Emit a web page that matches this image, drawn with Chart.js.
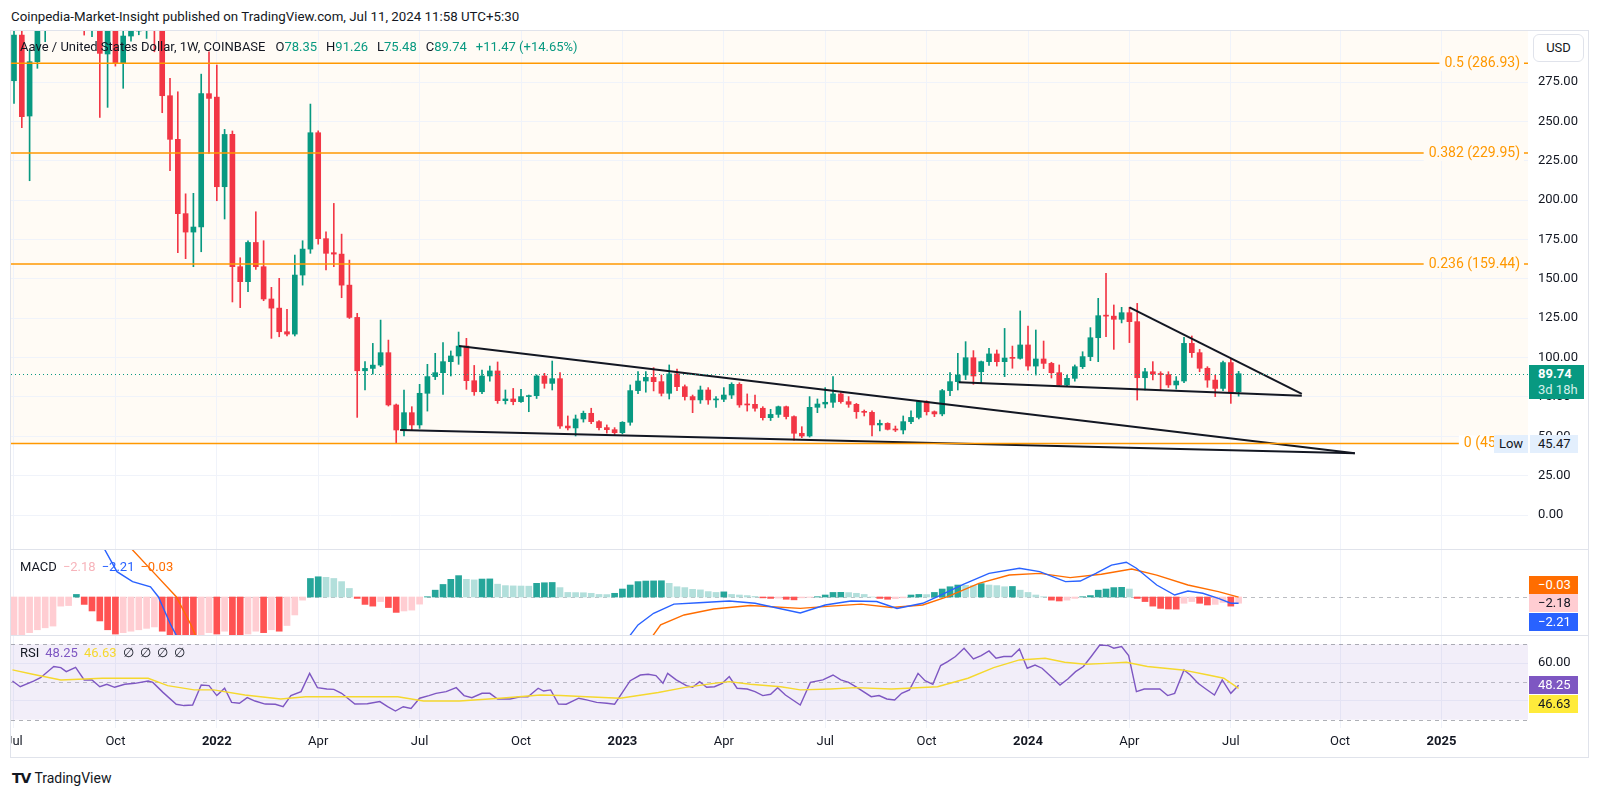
<!DOCTYPE html>
<html>
<head>
<meta charset="utf-8">
<title>AAVE / USD 1W</title>
<script src="https://cdn.jsdelivr.net/npm/chart.js@4.4.1/dist/chart.umd.min.js"></script>
<style>
  body { margin: 0; background: #fff; font-family: Roboto, "Noto Sans", sans-serif; color: #131722; }
  #page { position: relative; width: 1600px; height: 796px; overflow: hidden; }
  .a { position: absolute; white-space: nowrap; }
  canvas { position: absolute; left: 11px; }
  .frame { position: absolute; left: 10px; top: 30px; width: 1579px; height: 728px; border: 1px solid #e0e3eb; box-sizing: border-box; }
  .sep { position: absolute; left: 10px; width: 1579px; height: 1px; background: #e0e3eb; }
  .lg { font-size: 13px; line-height: 16px; }
  .lg span { margin-right: 6px; }
  .lg .ohlc { margin-right: 9px; }
  .tag { position: absolute; left: 1529px; width: 49px; height: 18px; font-size: 13px; line-height: 18px; padding-left: 9px; box-sizing: border-box; }
  .g { color: #089981; }
</style>
</head>
<body>
<div id="page">
  <div class="a" style="left:11px;top:9px;font-size:13.3px;line-height:16px;">Coinpedia-Market-Insight published on TradingView.com, Jul 11, 2024 11:58 UTC+5:30</div>
  <div class="frame"></div>
  <canvas id="main" width="1577" height="518" style="top:31px"></canvas>
  <div class="sep" style="top:549px"></div>
  <canvas id="macd" width="1577" height="85" style="top:550px"></canvas>
  <div class="sep" style="top:635px"></div>
  <canvas id="rsi" width="1577" height="120" style="top:636px"></canvas>

  <!-- legends -->
  <div class="a lg" style="left:20px;top:39px;">
    <span style="margin-right:10px">Aave / United States Dollar, 1W, COINBASE</span><span class="ohlc">O<span class="g" style="margin:0">78.35</span></span><span class="ohlc">H<span class="g" style="margin:0">91.26</span></span><span class="ohlc">L<span class="g" style="margin:0">75.48</span></span><span class="ohlc">C<span class="g" style="margin:0">89.74</span></span><span class="g">+11.47 (+14.65%)</span>
  </div>
  <div class="a lg" style="left:20px;top:559px;">
    <span>MACD</span><span style="color:#f7b4bb">−2.18</span><span style="color:#2962ff">−2.21</span><span style="color:#ff6d00">−0.03</span>
  </div>
  <div class="a lg" style="left:20px;top:645px;">
    <span>RSI</span><span style="color:#7e57c2">48.25</span><span style="color:#f5d82e">46.63</span><span>∅</span><span>∅</span><span>∅</span><span>∅</span>
  </div>

  <!-- price scale labels -->
  <div class="a" style="left:1533px;top:34px;width:51px;height:28px;border:1px solid #e0e3eb;border-radius:6px;box-sizing:border-box;font-size:13px;line-height:26px;text-align:center;background:#fff;">USD</div>
  <div class="a" style="left:1529px;top:365px;width:55px;height:34px;background:#089981;color:#fff;padding-left:9px;box-sizing:border-box;font-size:13px;line-height:16px;padding-top:1px;"><b>89.74</b><br><span style="color:#d2efe9">3d 18h</span></div>
  <div class="a" style="left:1494px;top:435px;width:34px;height:18px;background:#e3effd;font-size:13px;line-height:18px;text-align:center;">Low</div>
  <div class="a" style="left:1530px;top:435px;width:48px;height:18px;background:#e3effd;font-size:13px;line-height:18px;padding-left:8px;box-sizing:border-box;">45.47</div>
  <div class="tag" style="top:576px;background:#ff6d00;color:#fff;">−0.03</div>
  <div class="tag" style="top:594px;background:#ffcdd2;">−2.18</div>
  <div class="tag" style="top:613px;background:#2962ff;color:#fff;">−2.21</div>
  <div class="tag" style="top:676px;background:#7e57c2;color:#fff;">48.25</div>
  <div class="tag" style="top:695px;background:#ffeb3b;">46.63</div>

  <div class="a" style="left:12px;top:770px;font-size:14px;line-height:16px;"><b style="font-family:'DejaVu Sans';font-weight:900;letter-spacing:-1px;margin-right:4px">TV</b>TradingView</div>
</div>

<script>
// weekly candles, index 0 = week of 5 Jul 2021
const open = [
  275.8, 304.8, 253.4, 287.9, 330, 360, 380, 420, 390, 420,
  340, 350, 292.8, 318, 286.8, 304.2, 307.4, 315, 335, 320,
  266.3, 238.6, 191.4, 179.7, 182.9, 267.6, 265.4, 208.5, 241.7, 157.7,
  148.2, 173.1, 157.7, 137.2, 131.4, 116.4, 114.9, 152.4, 168.9, 242.8,
  175.5, 166.6, 165.7, 146, 125.5, 91.6, 93.1, 95.2, 103.1, 69.9,
  54, 65, 57.2, 77.3, 87.9, 90.4, 97.4, 101, 107.3, 85.3,
  78.3, 88.3, 91.5, 72.6, 73.7, 72, 75.2, 75.8, 88.3, 83.6,
  86.6, 56.5, 55.3, 61, 64.6, 59.3, 55.5, 54.2, 52.3, 58.9,
  79, 85.1, 87.4, 84.7, 77.3, 89.6, 81.5, 75.2, 73.1, 79.4,
  73.1, 73.5, 76.2, 83, 70.3, 70.3, 67.8, 61.8, 63.9, 68.8,
  62.5, 51.9, 50.2, 68.4, 70.5, 71.6, 76.9, 72, 70.3, 65.6,
  65.2, 57.2, 58.2, 54.4, 54, 59.3, 62, 72, 65.6, 64.2,
  79, 84.7, 88.9, 99.9, 91, 97.4, 102.3, 97.4, 99.9, 99.5,
  108, 94.6, 99.1, 96.3, 90.4, 82.6, 86.8, 94.2, 100.6, 112.6,
  126.6, 126.3, 124.3, 128.5, 122.8, 87.2, 91, 89.5, 89.2, 82.6,
  85.1, 109, 103.1, 93.2, 85.7, 80.4, 96.8, 78.35
];
const high = [
  312, 312, 295.3, 345, 375, 405, 450, 430, 440, 460,
  370, 360, 335, 340, 312, 316, 330, 350, 370, 330,
  277.3, 268.8, 204, 204.3, 280, 294.2, 285.8, 244.9, 243.9, 163.4,
  174.2, 192.6, 174.2, 144.6, 150.3, 130.6, 165.1, 174.2, 261, 244,
  179.9, 197.9, 178.4, 161.9, 128.1, 97.4, 109, 123.8, 111.1, 70.5,
  79.4, 68.8, 83, 95.7, 102.7, 109.5, 104.2, 116.2, 112.2, 95,
  92.1, 94.6, 97.2, 79.4, 80.4, 79.8, 76.2, 89, 90, 97.8,
  90.4, 62.9, 63.5, 66, 67.8, 60, 57.2, 55.5, 59.3, 82.6,
  91.1, 91.1, 93.6, 88.9, 95.3, 92.7, 82.6, 76.2, 81.9, 80.9,
  75.2, 80.9, 84, 84, 76.9, 76.2, 68.8, 67.1, 69.2, 69.2,
  63, 56.1, 75.2, 73.7, 80.9, 87.9, 77.7, 75.2, 70.9, 66.7,
  66.1, 60.3, 58.6, 56.5, 62.9, 66.1, 72.6, 72.6, 66.1, 79.8,
  90.4, 102.7, 110.1, 104.4, 97.8, 105.8, 104.8, 118.5, 107.3, 129.6,
  120, 117.5, 110.5, 97, 95.3, 88.9, 95.3, 103.7, 119, 137.6,
  153.5, 133.4, 131.9, 131.9, 134.4, 93.2, 97.4, 91, 91, 87.9,
  112.8, 113.7, 105.2, 94.2, 88.9, 97.8, 99.5, 91.26
];
const low = [
  261.4, 246, 212.3, 283.7, 300.6, 340, 360, 360, 375, 304.8,
  303.8, 252.5, 258.9, 285.1, 271, 301, 305, 302.7, 294.2, 255.5,
  218.7, 166.6, 162.8, 157.7, 167.2, 229.7, 199.6, 188, 135.3, 131.7,
  141.8, 156, 136.1, 112.2, 113.2, 113.7, 113.7, 146, 166.2, 172,
  155.6, 157.7, 138, 124.8, 62, 79.4, 89.5, 94.2, 69.2, 45.47,
  50.2, 53.6, 55, 66, 86, 76.6, 88.3, 95.7, 79.8, 76,
  77, 85, 70.9, 70.5, 70, 71.5, 65.6, 74, 80.5, 79.4,
  55, 54, 50.2, 59, 58, 54, 52, 51, 51.5, 57,
  77, 78, 78.8, 75.6, 73.7, 79, 73, 65, 70.9, 70.3,
  68.4, 72, 74, 68.4, 66, 66, 60.3, 60, 62, 61,
  47.6, 49.1, 49.5, 65, 68, 68.4, 71, 68.4, 61.4, 62.9,
  50.2, 53.4, 54, 53, 51.5, 58, 61, 63.5, 62.5, 63,
  75.8, 79.4, 86, 83, 84, 95, 94.6, 87.9, 93.2, 99,
  92, 88.9, 93, 87, 81.9, 81.5, 85, 93, 98, 97.4,
  113.3, 105.2, 122, 109.5, 73, 79.4, 85.8, 79, 81, 80,
  84, 100.1, 91, 81.1, 75.2, 79, 70.9, 75.48
];
const close = [
  304.8, 253, 287.9, 330, 360, 380, 420, 390, 420, 340,
  350, 293.2, 318, 286.8, 304.2, 307.4, 315, 335, 320, 266.3,
  238.6, 191.4, 179.7, 182.9, 267.6, 264.6, 208.5, 241.7, 157.7, 148.2,
  173.1, 157.7, 137.2, 131.4, 116.4, 114.9, 152.4, 168.9, 242.8, 175.5,
  166.2, 165.7, 146, 125.5, 91.6, 93.1, 95.2, 103.1, 69.9, 54,
  65, 57.2, 77.3, 87.9, 90.4, 97.4, 101, 107.3, 85.3, 78.3,
  88.3, 91.5, 72.6, 73.7, 72, 75.2, 75.8, 88.3, 83.6, 86.6,
  56.5, 55.3, 61, 64.6, 59.3, 55.5, 54.2, 52.3, 58.9, 79,
  85.1, 87.4, 84.7, 77.3, 89.6, 81.5, 75.2, 73.1, 79.4, 73.1,
  73.5, 76.2, 83, 69.9, 69.9, 67.8, 61.8, 63.9, 68.8, 62.5,
  51.9, 50.2, 68.4, 70.5, 71.6, 76.9, 72, 70.3, 65.6, 65.2,
  57.2, 58.2, 54.4, 54, 59.3, 62, 72, 65.6, 64.2, 79,
  84.7, 88.9, 99.9, 88.3, 97.4, 102.3, 97.4, 99.7, 99.5, 108,
  94.6, 99.1, 96.3, 90.4, 82.6, 86.8, 94.2, 100.6, 112.6, 126.6,
  126.3, 124.3, 128.5, 122.8, 87.2, 91, 89.5, 89.2, 82.6, 85.1,
  109, 103.1, 93.2, 85.7, 80.4, 96.8, 78.35, 89.74
];

// MACD histogram per week, MACD / signal lines as [week, value]
const hist = [
  -15, -13.5, -12.5, -11.5, -10.8, -10.2, -3.2, -3.0, 0.9, -2.6,
  -4.9, -8.4, -11.5, -13, -12.5, -12, -11.5, -11, -10.5, -12,
  -13.5, -15, -15.5, -16, -14, -12.5, -13, -12, -14, -15,
  -13, -12, -12.5, -11.5, -12, -10, -6.3, -1.1, 6.5, 7.1,
  6.9, 6.5, 5.4, 3.0, -0.5, -2.6, -3.2, -1.6, -3.7, -5.4,
  -4.9, -4.6, -2.5, 0.1, 2.4, 4.4, 6.2, 7.5, 6.2, 6.0,
  6.3, 6.35, 4.5, 4.0, 3.9, 3.85, 3.8, 4.8, 5.0, 5.1,
  3.3, 1.6, 1.55, 1.5, 1.3, 0.9, 0.85, 1.3, 2.8, 4.2,
  5.4, 5.6, 5.65, 5.7, 4.8, 3.6, 3.3, 2.7, 2.5, 1.9,
  1.6, 1.8, 0.9, 0.7, 0.5, 0.2, -0.3, -0.5, -0.4, -0.8,
  -1.0, -0.3, -0.1, 0.1, 0.7, 1.6, 1.65, 1.55, 1.3, 0.9,
  0.0, -0.5, -0.8, -0.6, -0.3, 0.7, 0.9, 0.85, 1.6, 2.8,
  3.6, 4.2, 4.1, 4.0, 4.7, 4.2, 4.0, 3.6, 3.7, 2.4,
  1.6, 0.7, 0.1, -1.1, -1.4, -1.1, -0.5, 0.1, 0.5, 2.4,
  2.8, 3.3, 3.4, 2.8, -0.5, -1.6, -3.2, -4.0, -4.2, -4.25,
  -2.2, -1.6, -2.2, -2.8, -2.6, -1.9, -3.2, -2.18
];
const macdLine = [
  [10.5, 21], [11.6, 16.8], [13.2, 8.9], [15.2, 5.4], [17.5, 3.6], [18.5, 0.1], [20.1, -9.8], [21.5, -17],
  [78, -17], [80, -9.8], [82, -5.7], [84.6, -2.5], [87.8, -2.0], [91.7, -1.4], [95, -2.2], [100.8, -5.6],
  [104, -2.8], [107.3, -1.4], [110.6, -1.6], [113.2, -4.0], [116.5, -2.2], [118.4, 0.1], [121.7, 4.4],
  [125, 8.3], [128.9, 10.1], [131.5, 8.9], [134.8, 5.4], [136.7, 5.6], [138.7, 8.3], [140.7, 11.2],
  [142.6, 12.2], [143.9, 10.1], [146.5, 4.2], [148.8, 0.7], [150.5, 2.1], [152.4, 1.3], [154.4, -0.5],
  [156, -2.2], [157, -2.21]
];
const signalLine = [
  [13.5, 22], [15.1, 16.8], [17.8, 8.9], [20.8, 0.1], [22.7, -9.8], [23.8, -17],
  [81, -17], [82.9, -9.8], [85.9, -6.3], [89.7, -4.2], [94.4, -3.0], [100.8, -4.0], [104.7, -3.2],
  [108.6, -2.5], [112.5, -3.7], [116.5, -2.8], [119.7, 0.1], [123.7, 4.8], [127.6, 7.7], [131.5, 8.3],
  [135.4, 6.8], [139.4, 8.0], [143.3, 9.8], [146.5, 7.7], [150.5, 4.2], [154.4, 1.9], [157, -0.03]
];

// RSI and its moving average as [week, value]
const rsiLine = [
  [-0.2, 50.5], [0.8, 47.5], [2.5, 50.5], [3.4, 52.3], [5.1, 58.2], [6, 57.6], [6.7, 55.5], [7.9, 57.8],
  [9, 51.1], [10, 51.1], [11, 47.5], [11.9, 48.8], [12.9, 47.2], [14.2, 48.8], [15.5, 49.3], [17.2, 50.5],
  [17.8, 49.8], [19.1, 44.5], [20.8, 38.2], [21.8, 37.5], [22.9, 37.8], [24, 48.4], [25, 48.1], [26, 42.8],
  [27, 46.7], [27.9, 39.2], [28.9, 38.7], [29.9, 41.7], [30.9, 39.9], [32.2, 38.3], [33.5, 38.2], [34.5, 36.9],
  [35.5, 42.8], [36.8, 44.9], [37.9, 54.6], [38.9, 47], [40.1, 46.3], [41, 46.1], [42, 44], [43.7, 38.3],
  [45.3, 38.5], [46.9, 39.6], [47.9, 36.9], [48.9, 34.6], [49.9, 36.9], [50.9, 36], [52, 41.4], [53.2, 42.8],
  [54.1, 44], [55.4, 44.9], [56.7, 47], [57.7, 42.8], [58.7, 41.7], [60, 44], [61, 44], [62, 41], [63.6, 41],
  [64.9, 42.2], [65.9, 42.2], [67.2, 46.7], [67.9, 45.2], [68.8, 45.8], [69.8, 38.3], [70.8, 38.2], [72.4, 41.4],
  [73.4, 40.5], [74.7, 39.2], [76, 38.7], [77, 38.2], [79, 50.7], [80.3, 53.7], [81.3, 54.1], [82.3, 53.4],
  [83.2, 49.3], [83.8, 54.6], [84.9, 51.1], [86.2, 48.1], [87, 47.2], [87.9, 50.2], [88.8, 47.2], [89.8, 47.5],
  [90.8, 49.3], [91.7, 52.9], [92.7, 46.7], [94, 46.3], [95, 44.9], [96, 42.8], [97, 43.5], [97.9, 47],
  [98.9, 43.1], [100.8, 37.8], [102.1, 49.8], [103.7, 51.1], [105, 53.7], [106, 51.1], [107, 49.8],
  [107.9, 47.5], [109.9, 42.2], [110.9, 42.8], [111.9, 41], [112.9, 40.5], [113.8, 44], [114.8, 45.8],
  [115.9, 54.6], [116.8, 50.7], [117.8, 48.8], [118.8, 58.7], [119.7, 60.8], [120.7, 63.5], [121.8, 67.9],
  [123, 62.2], [124, 64], [125, 66.5], [125.9, 62.6], [126.9, 63.5], [127.9, 63.5], [128.9, 67.5], [129.9, 57.3],
  [130.9, 59], [131.8, 57.3], [132.8, 53.4], [134.1, 48.4], [135.1, 51.6], [136.1, 55.5], [137.1, 58.2],
  [138.1, 63.5], [139.2, 69.6], [140.3, 69.3], [141, 67.9], [142, 68.8], [142.9, 64], [143.9, 44.9],
  [144.9, 46.3], [146.9, 46.3], [147.9, 42.8], [148.8, 44], [150, 56.4], [150.8, 53.7], [151.8, 49.3],
  [152.8, 46.3], [153.9, 43.1], [154.9, 51.1], [156, 44], [157, 48.25]
];
const rsiMa = [
  [-0.2, 56.4], [2.4, 54.1], [6, 51.1], [11.3, 52], [17.2, 52], [19.7, 48.1], [23.1, 45.8], [25.6, 45.8],
  [29.6, 43.1], [34.2, 41], [37.4, 42.2], [44, 42.2], [49.2, 42.2], [52.5, 39.9], [57.1, 39.9], [62.3, 41.4],
  [67.5, 43.1], [70.1, 42.8], [73.4, 42.2], [77.7, 41.4], [82.6, 44.4], [85.9, 47], [89.7, 49.3], [91.7, 50.2],
  [94.4, 48.8], [98.3, 47.5], [100.8, 45.8], [104.7, 46.3], [107.9, 47], [112.5, 46.3], [118.4, 47.5],
  [122.3, 52], [125.6, 57.6], [128.9, 61.7], [132.2, 62.6], [134.7, 60.5], [137.4, 59.4], [140, 59.9],
  [142.6, 60.5], [145.3, 58.2], [149.8, 56.4], [153.1, 53.7], [155.1, 52], [157, 46.63]
];

// drawings
const fibLevels = [0, 0.236, 0.382, 0.5];
const fibPrices = [45.47, 159.44, 229.95, 286.93];
const wedgeUpper = [[57.05, 107.3], [171.9, 39.2]];
const wedgeLower = [[49.5, 54.0], [171.9, 39.2]];
const triUpper = [[143, 131.9], [165.1, 76.9]];
const triLower = [[121.1, 84.3], [165.1, 75.8]];
const lastPrice = 89.74;

// axes
const quarterTicks = [0, 13, 26, 39, 52, 65, 78, 91, 104, 117, 130, 143, 156, 170, 183];
const quarterLabels = ['Jul', 'Oct', '2022', 'Apr', 'Jul', 'Oct', '2023', 'Apr', 'Jul', 'Oct', '2024', 'Apr', 'Jul', 'Oct', '2025'];
const priceTicks = [0, 25, 50, 75, 100, 125, 150, 175, 200, 225, 250, 275];
const rsiTicks = [40, 60];

const FONT = 'Roboto, "Noto Sans", sans-serif';
const UP = '#089981', DOWN = '#f23645';
const X_MIN = -0.3846, X_MAX = 194.1;
const AXIS_W = 60;

const pts = arr => arr.map(([x, y]) => ({ x, y }));
const weeks = open.map((_, i) => i);
const candleColors = weeks.map(i => close[i] >= open[i] ? UP : DOWN);
const histColors = hist.map((v, i) => {
  const prev = i ? hist[i - 1] : v;
  if (v >= 0) return v >= prev ? '#26a69a' : '#b2dfdb';
  return v < prev ? '#ff5252' : '#ffcdd2';
});

function timeAxis() {
  return {
    type: 'linear', min: X_MIN, max: X_MAX, offset: false,
    afterBuildTicks: s => { s.ticks = quarterTicks.map(v => ({ value: v })); },
    afterFit: s => { s.height = 0; },
    grid: { color: '#f0f3fa', drawTicks: false, offset: false },
    border: { display: false },
    ticks: { display: false }
  };
}

function valueAxis(min, max, ticks) {
  return {
    position: 'right', min, max,
    afterBuildTicks: s => { s.ticks = ticks.map(v => ({ value: v })); },
    afterFit: s => { s.width = AXIS_W; },
    grid: { color: '#f0f3fa', drawTicks: false, display: ticks.length > 0 },
    border: { display: false },
    ticks: { display: false }
  };
}

const baseOpts = {
  responsive: false, animation: false, devicePixelRatio: 1, events: [],
  layout: { padding: 0, autoPadding: false },
  plugins: { legend: { display: false }, tooltip: { enabled: false } }
};

// scale labels drawn from the chart's own scales
const axisText = (yTicks, withTime) => ({
  id: 'axisText',
  afterDraw(c) {
    const { ctx, chartArea: a, scales: { x, y } } = c;
    ctx.save();
    ctx.fillStyle = '#131722';
    ctx.textBaseline = 'middle';
    ctx.textAlign = 'left';
    ctx.font = '13px ' + FONT;
    yTicks.forEach(v => ctx.fillText(v.toFixed(2), a.right + 10, y.getPixelForValue(v)));
    if (withTime) {
      ctx.textAlign = 'center';
      quarterTicks.forEach((v, k) => {
        const lab = quarterLabels[k];
        ctx.font = (/^\d+$/.test(lab) ? 'bold ' : '') + '13px ' + FONT;
        ctx.fillText(lab, x.getPixelForValue(v), a.bottom + 14);
      });
    }
    ctx.restore();
  }
});

// price pane: fib fill under grid, fib lines + labels and price line on top
const mainDecor = {
  id: 'mainDecor',
  beforeDraw(c) {
    const { ctx, chartArea: a, scales: { y } } = c;
    ctx.save();
    ctx.fillStyle = '#fffbf5';
    const y0 = y.getPixelForValue(fibPrices[0]);
    ctx.fillRect(a.left, a.top, a.right - a.left, y0 - a.top);
    ctx.restore();
  },
  afterDatasetsDraw(c) {
    const { ctx, chartArea: a, scales: { y } } = c;
    ctx.save();
    const yp = Math.round(y.getPixelForValue(lastPrice)) + 0.5;
    ctx.strokeStyle = UP; ctx.lineWidth = 1; ctx.setLineDash([1, 3]);
    ctx.beginPath(); ctx.moveTo(a.left, yp); ctx.lineTo(a.right, yp); ctx.stroke();
    ctx.setLineDash([]);
    ctx.font = '14px ' + FONT;
    ctx.textBaseline = 'middle'; ctx.textAlign = 'right';
    fibLevels.forEach((lvl, k) => {
      const yy = y.getPixelForValue(fibPrices[k]);
      ctx.strokeStyle = '#ff9800'; ctx.lineWidth = 1.5;
      ctx.beginPath(); ctx.moveTo(a.left, yy); ctx.lineTo(a.right, yy); ctx.stroke();
      const txt = lvl + ' (' + fibPrices[k].toFixed(2) + ')';
      const w = ctx.measureText(txt).width;
      const xr = a.right - 8;
      ctx.fillStyle = k === 0 ? '#fff' : '#fffbf5';
      ctx.fillRect(xr - w - 5, yy - 8, w + 9, 16);
      ctx.fillStyle = '#ff9800';
      ctx.fillText(txt, xr, yy + 0.5);
    });
    ctx.restore();
  }
};

const line = (data, color, width) => ({
  type: 'line', data: pts(data), borderColor: color, borderWidth: width,
  pointRadius: 0, fill: false, tension: 0, order: 0
});

new Chart(document.getElementById('main'), {
  type: 'bar',
  data: {
    datasets: [
      { data: weeks.map(i => ({ x: i, y: [low[i], high[i]] })), backgroundColor: candleColors,
        barThickness: 1, grouped: false, order: 3 },
      { data: weeks.map(i => ({ x: i, y: [open[i], close[i]] })), backgroundColor: candleColors,
        barThickness: 5, minBarLength: 1, grouped: false, order: 2 },
      line(wedgeUpper, '#131722', 2),
      line(wedgeLower, '#131722', 2),
      line(triUpper, '#131722', 2),
      line(triLower, '#131722', 2)
    ]
  },
  options: {
    ...baseOpts,
    scales: { x: timeAxis(), y: valueAxis(-21.59, 307.4, priceTicks) }
  },
  plugins: [mainDecor, axisText(priceTicks, false)]
});

// MACD pane
const zeroLine = {
  id: 'zeroLine',
  beforeDatasetsDraw(c) {
    const { ctx, chartArea: a, scales: { y } } = c;
    const yy = Math.round(y.getPixelForValue(0)) + 0.5;
    ctx.save();
    ctx.strokeStyle = 'rgba(120,123,134,0.5)'; ctx.lineWidth = 1; ctx.setLineDash([4, 4]);
    ctx.beginPath(); ctx.moveTo(a.left, yy); ctx.lineTo(a.right, yy); ctx.stroke();
    ctx.restore();
  }
};

new Chart(document.getElementById('macd'), {
  type: 'bar',
  data: {
    datasets: [
      { data: weeks.map(i => ({ x: i, y: hist[i] })), backgroundColor: histColors, barThickness: 6, grouped: false, order: 2 },
      line(macdLine, '#2962ff', 1.4),
      line(signalLine, '#ff6d00', 1.4)
    ]
  },
  options: {
    ...baseOpts,
    scales: { x: timeAxis(), y: valueAxis(-13.33, 16.49, []) }
  },
  plugins: [zeroLine]
});

// RSI pane
const rsiBands = {
  id: 'rsiBands',
  beforeDatasetsDraw(c) {
    const { ctx, chartArea: a, scales: { y } } = c;
    ctx.save();
    const y70 = y.getPixelForValue(70), y30 = y.getPixelForValue(30);
    ctx.fillStyle = 'rgba(126,87,194,0.1)';
    ctx.fillRect(a.left, y70, a.right - a.left, y30 - y70);
    ctx.lineWidth = 1; ctx.setLineDash([4, 4]);
    [[70, 0.6], [50, 0.45], [30, 0.6]].forEach(([v, al]) => {
      const yy = Math.round(y.getPixelForValue(v)) + 0.5;
      ctx.strokeStyle = 'rgba(120,123,134,' + al + ')';
      ctx.beginPath(); ctx.moveTo(a.left, yy); ctx.lineTo(a.right, yy); ctx.stroke();
    });
    ctx.restore();
  }
};

new Chart(document.getElementById('rsi'), {
  type: 'line',
  data: {
    datasets: [
      line(rsiMa, '#f5d82e', 1.4),
      line(rsiLine, '#7e57c2', 1.4)
    ]
  },
  options: {
    ...baseOpts,
    layout: { padding: { left: 0, right: 0, top: 0, bottom: 28 }, autoPadding: false },
    scales: { x: timeAxis(), y: valueAxis(25.6, 74.4, rsiTicks) }
  },
  plugins: [rsiBands, axisText(rsiTicks, true)]
});
</script>
</body>
</html>
